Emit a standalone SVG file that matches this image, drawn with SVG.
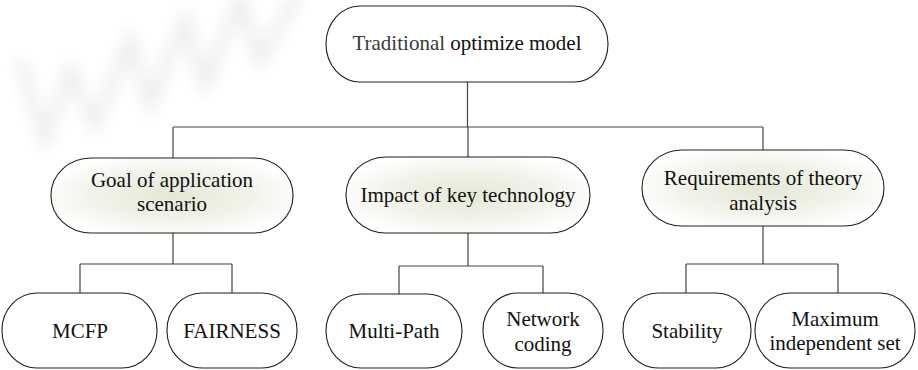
<svg xmlns="http://www.w3.org/2000/svg" width="918" height="370" viewBox="0 0 918 370">
<style>
.box{stroke:#1e1e1e;stroke-width:1.1}
.l3{fill:#ffffff}
.l2{fill:url(#g2)}
.root{fill:#ffffff}
.t{font-family:"Liberation Serif","Times New Roman",serif;font-size:21px;fill:#111;text-anchor:middle}
.conn{stroke:#444;stroke-width:1.2;fill:none}
</style>
<defs>
<radialGradient id="g2" cx="50%" cy="50%" r="55%">
<stop offset="0" stop-color="#e4e8d6"/>
<stop offset="0.6" stop-color="#f1f3ea"/>
<stop offset="1" stop-color="#ffffff"/>
</radialGradient>
<filter id="blur" x="-20%" y="-20%" width="140%" height="140%"><feGaussianBlur stdDeviation="8"/></filter>
</defs>
<g id="watermark" opacity="0.16" filter="url(#blur)">
<polyline points="20,60 45,140 70,70 95,125 130,40 150,105 185,20 205,85 240,0 260,60 300,-10" fill="none" stroke="#888" stroke-width="10"/>
</g>
<g id="connectors" class="conn">
<path d="M467.5 82V127M173 127H763M173 127V158M468 127V157M763 127V150"/>
<path d="M173 233V264M80 264H232M80 264V293M232 264V293"/>
<path d="M468 233V266M399 266H543M399 266V294M543 266V293"/>
<path d="M763 226V264M686 264H838M686 264V293M838 264V293"/>
</g>
<g id="root">
<rect class="box root" x="326" y="6" width="282" height="76" rx="34" ry="38"/>
<text class="t" font-family="Liberation Serif, serif" x="467" y="50"><tspan fill="#3a3a3a">Traditional</tspan> optimize model</text>
</g>
<g id="goal">
<rect class="box l2" x="51" y="158" width="242" height="75" rx="40" ry="37"/>
<text class="t" font-family="Liberation Serif, serif" x="172" y="187">Goal of application</text>
<text class="t" font-family="Liberation Serif, serif" x="172" y="211">scenario</text>
</g>
<g id="impact">
<rect class="box l2" x="346" y="157" width="244" height="76" rx="40" ry="38"/>
<text class="t" font-family="Liberation Serif, serif" x="468" y="202">Impact of key technology</text>
</g>
<g id="requirements">
<rect class="box l2" x="642" y="150" width="242" height="76" rx="40" ry="38"/>
<text class="t" font-family="Liberation Serif, serif" x="763" y="185">Requirements of theory</text>
<text class="t" font-family="Liberation Serif, serif" x="763" y="210">analysis</text>
</g>
<g id="mcfp">
<rect class="box l3" x="2" y="293" width="155" height="75" rx="35" ry="37"/>
<text class="t" font-family="Liberation Serif, serif" x="80" y="338">MCFP</text>
</g>
<g id="fairness">
<rect class="box l3" x="167" y="293" width="130" height="75" rx="35" ry="37"/>
<text class="t" font-family="Liberation Serif, serif" x="232" y="338">FAIRNESS</text>
</g>
<g id="multipath">
<rect class="box l3" x="326" y="294" width="136" height="74" rx="35" ry="37"/>
<text class="t" font-family="Liberation Serif, serif" x="394" y="338">Multi-Path</text>
</g>
<g id="network">
<rect class="box l3" x="483" y="293" width="120" height="75" rx="35" ry="37"/>
<text class="t" font-family="Liberation Serif, serif" x="543" y="326">Network</text>
<text class="t" font-family="Liberation Serif, serif" x="543" y="351">coding</text>
</g>
<g id="stability">
<rect class="box l3" x="623" y="293" width="128" height="75" rx="35" ry="37"/>
<text class="t" font-family="Liberation Serif, serif" x="687" y="338">Stability</text>
</g>
<g id="maximum">
<rect class="box l3" x="755" y="293" width="160" height="75" rx="35" ry="37"/>
<text class="t" font-family="Liberation Serif, serif" x="835" y="326">Maximum</text>
<text class="t" font-family="Liberation Serif, serif" x="835" y="350">independent set</text>
</g>
</svg>
